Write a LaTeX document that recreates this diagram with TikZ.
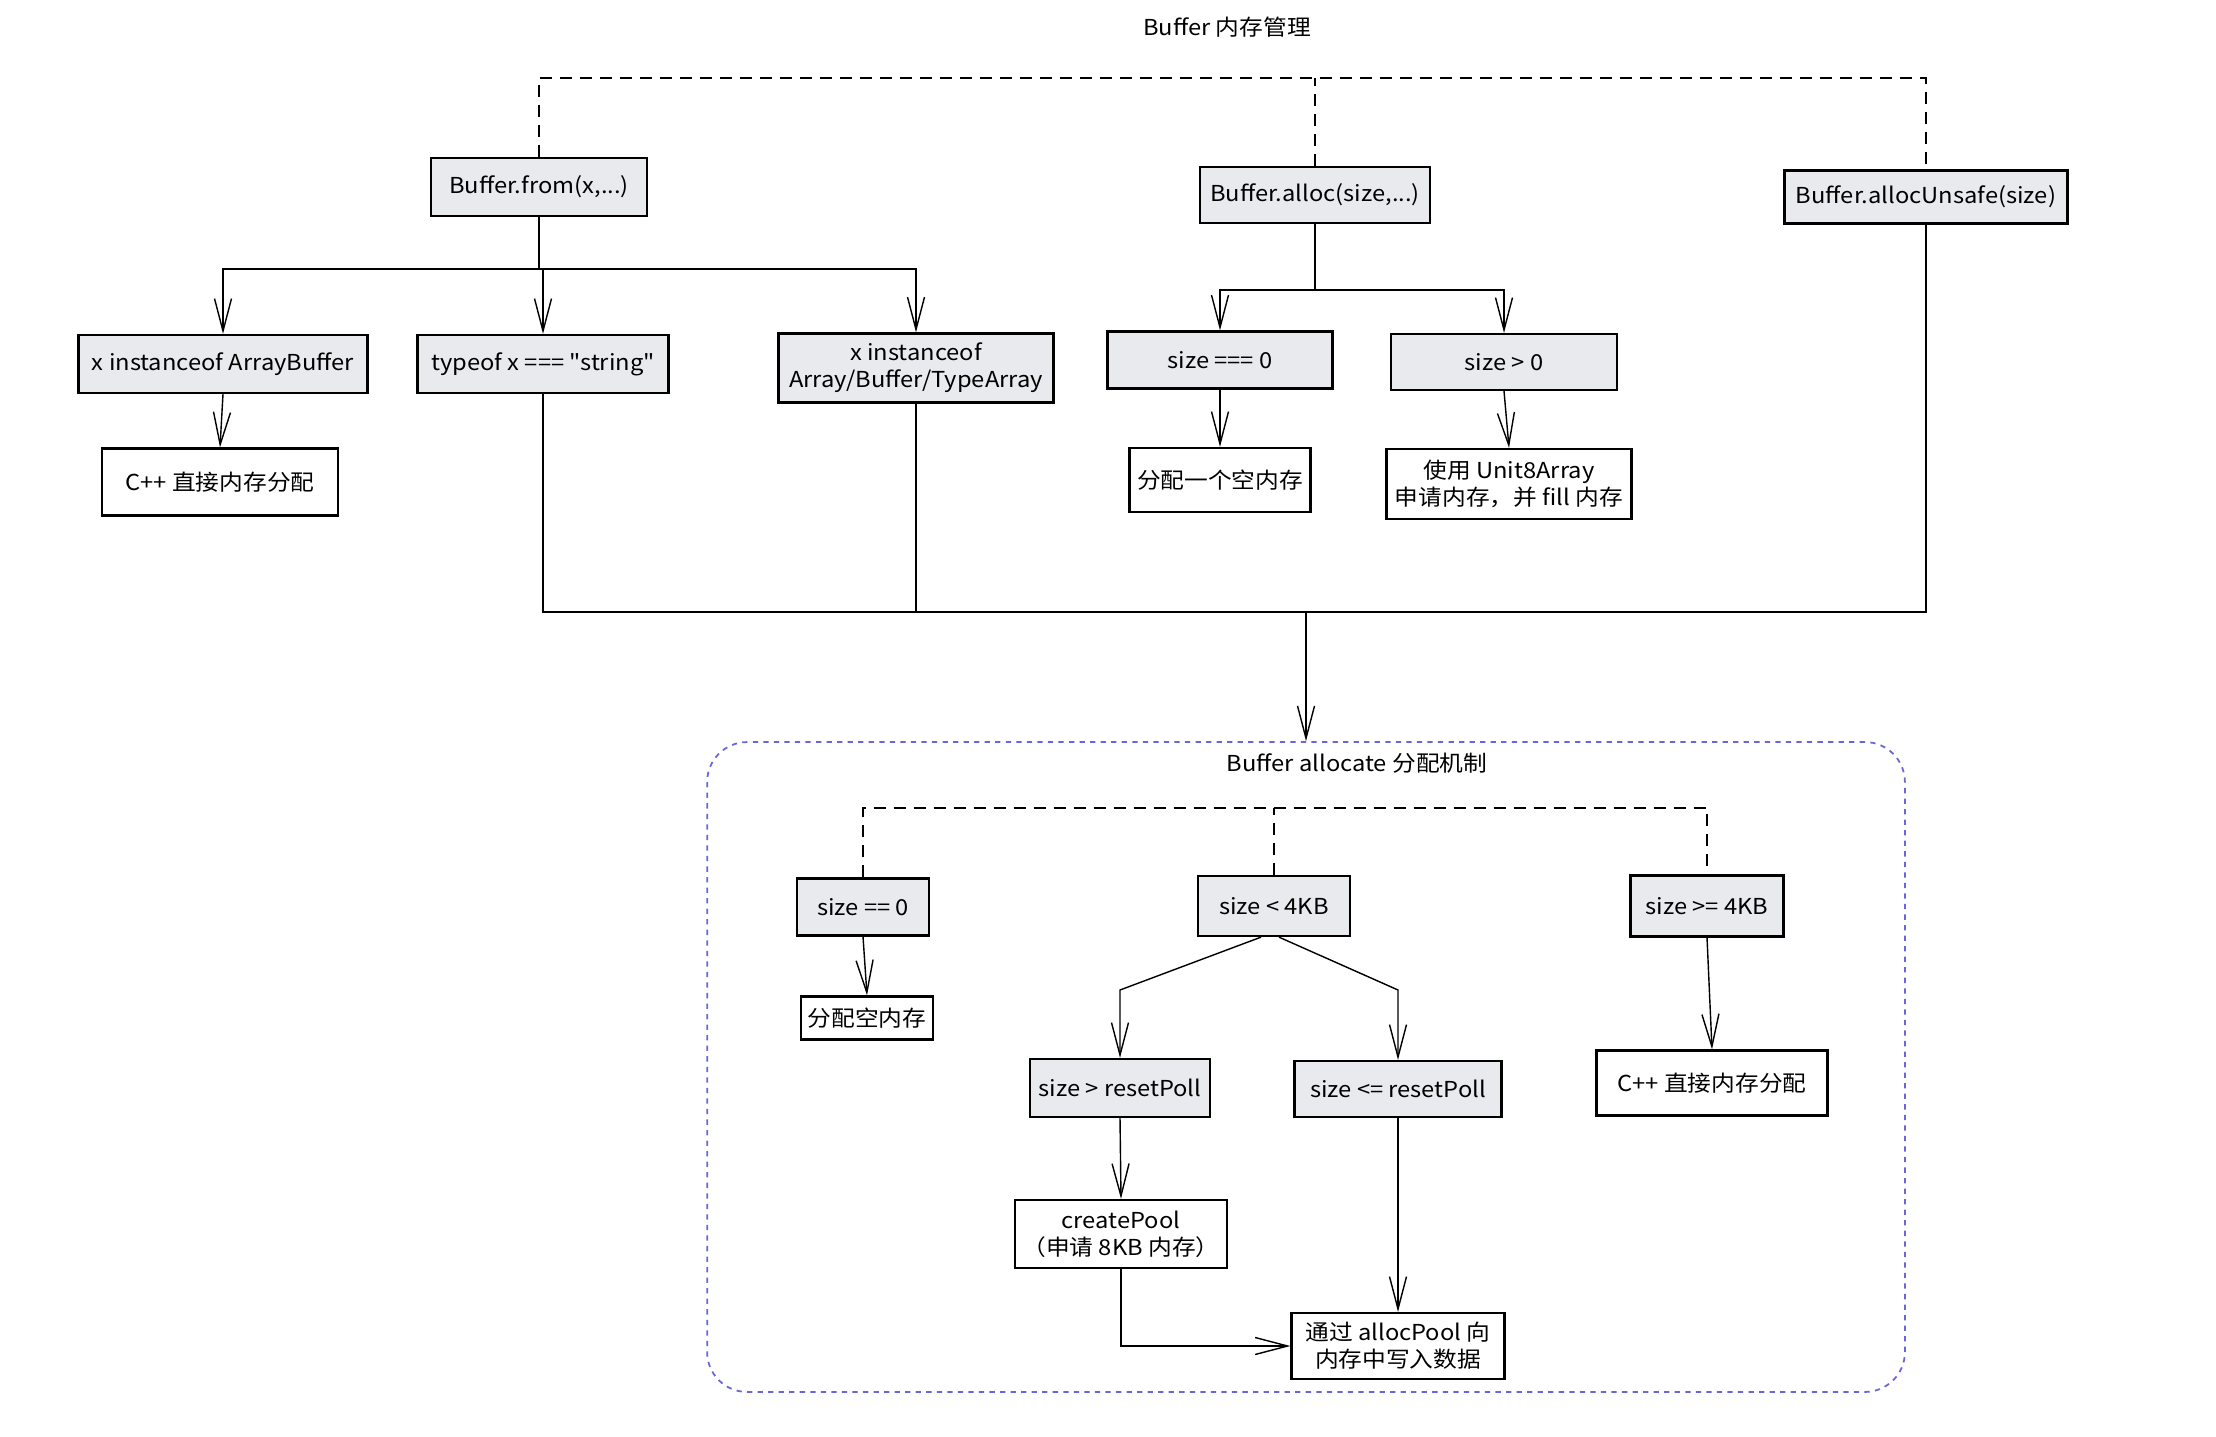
\documentclass[tikz,border=0pt]{standalone}
\usepackage{fontspec}
\setmainfont{Noto Sans CJK SC}[Ligatures=TeXOff, FakeStretch=1.08]
\usepackage{xcolor}
\usepackage{tikz}
\usetikzlibrary{arrows.meta, positioning, calc}
\definecolor{hatchgray}{RGB}{232,234,237}
\definecolor{poolblue}{RGB}{105,101,219}

\begin{document}
\begin{tikzpicture}[x=0.02cm, y=-0.02cm, >={Straight Barb[length=6.5mm,width=3.4mm]},
  every node/.style={font=\fontsize{12.5}{15.5}\selectfont, align=center, inner sep=2pt},
  graybox/.style={rectangle, draw=black, line width=1.3pt, fill=hatchgray},
  whitebox/.style={rectangle, draw=black, line width=1.3pt, fill=white},
  link/.style={line width=0.8pt},
  guide/.style={line width=1pt, dash pattern=on 0.24cm off 0.16cm}]
\useasboundingbox (0,0) rectangle (2216,1436);

% upper part: Buffer API
\node (title) at (1227,27) {Buffer 内存管理};
\node (from) [graybox, minimum width=4.32cm, minimum height=1.16cm] at (539,187) {Buffer.from(x,...)};
\node (alloc) [graybox, minimum width=4.6cm, minimum height=1.12cm] at (1315,195) {Buffer.alloc(size,...)};
\node (unsafe) [graybox, minimum width=5.66cm, minimum height=1.06cm] at (1926,197) {Buffer.allocUnsafe(size)};
\node (isab) [graybox, minimum width=5.78cm, minimum height=1.16cm] at (223,364) {x instanceof ArrayBuffer};
\node (isstr) [graybox, minimum width=5.02cm, minimum height=1.16cm] at (543,364) {typeof x === "string"};
\node (isarr) [graybox, minimum width=5.5cm, minimum height=1.38cm] at (916,368) {x instanceof\\Array/Buffer/TypeArray};
\node (zero) [graybox, minimum width=4.5cm, minimum height=1.14cm] at (1220,360) {size === 0};
\node (pos) [graybox, minimum width=4.52cm, minimum height=1.12cm] at (1504,362) {size > 0};
\node (cpp) [whitebox, minimum width=4.72cm, minimum height=1.34cm] at (220,482) {C++ 直接内存分配};
\node (empty) [whitebox, minimum width=3.62cm, minimum height=1.28cm] at (1220,480) {分配一个空内存};
\node (fill) [whitebox, minimum width=4.9cm, minimum height=1.4cm] at (1509,484) {使用 Unit8Array\\申请内存，并 fill 内存};

% lower part: allocate
\node (pool) [rectangle, draw=poolblue, dashed, line width=1pt, rounded corners=0.8cm, minimum width=23.96cm, minimum height=13cm] at (1306,1067) {};
\node (pooltitle) at (1357,763) {Buffer allocate 分配机制};
\node (eq0) [graybox, minimum width=2.64cm, minimum height=1.14cm] at (863,907) {size == 0};
\node (lt) [graybox, minimum width=3.04cm, minimum height=1.2cm] at (1274,906) {size < 4KB};
\node (ge) [graybox, minimum width=3.06cm, minimum height=1.22cm] at (1707,906) {size >= 4KB};
\node (emptypool) [whitebox, minimum width=2.64cm, minimum height=0.86cm] at (867,1018) {分配空内存};
\node (gtr) [graybox, minimum width=3.6cm, minimum height=1.16cm] at (1120,1088) {size > resetPoll};
\node (ler) [graybox, minimum width=4.14cm, minimum height=1.12cm] at (1398,1089) {size <= resetPoll};
\node (direct) [whitebox, minimum width=4.62cm, minimum height=1.3cm] at (1712,1083) {C++ 直接内存分配};
\node (create) [whitebox, minimum width=4.24cm, minimum height=1.36cm] at (1121,1234) {createPool\\（申请 8KB 内存）};
\node (write) [whitebox, minimum width=4.26cm, minimum height=1.32cm] at (1398,1346) {通过 allocPool 向\\内存中写入数据};

% bus lines
\coordinate (topbar) at (0,78);
\coordinate (frombus) at (0,269);
\coordinate (allocbus) at (0,290);
\coordinate (merge) at (1306,612);
\coordinate (poolbar) at (0,808);
\coordinate (split) at (0,990);

\draw [guide] (from.north) -- (from.north |- topbar) -| (unsafe.north);
\draw [guide] (alloc.north) -- (alloc.north |- topbar);

\draw [link, ->] (from.south) -- (from.south |- frombus) -| (isab.north);
\draw [link, ->] (from.south) -- (from.south |- frombus) -| (isstr.north);
\draw [link, ->] (from.south) -- (from.south |- frombus) -| (isarr.north);
\draw [link, ->] (alloc.south) -- (alloc.south |- allocbus) -| (zero.north);
\draw [link, ->] (alloc.south) -- (alloc.south |- allocbus) -| (pos.north);
\draw [link, ->] (isab.south) -- (cpp.north);
\draw [link, ->] (zero.south) -- (empty.north);
\draw [link, ->] (pos.south) -- (fill.north);

\draw [link] (isstr.south) |- (merge) -| (unsafe.south);
\draw [link] (isarr.south) -- (isarr.south |- merge);
\draw [link, ->] (merge) -- (pool.north);

\draw [guide] (eq0.north) -- (eq0.north |- poolbar) -| (ge.north);
\draw [guide] (lt.north) -- (lt.north |- poolbar);
\draw [link, ->] (eq0.south) -- (emptypool.north);
\draw [link, ->] ([xshift=-0.26cm]lt.south) -- (gtr.north |- split) -- (gtr.north);
\draw [link, ->] ([xshift=0.1cm]lt.south) -- (ler.north |- split) -- (ler.north);
\draw [link, ->] (ge.south) -- (direct.north);
\draw [link, ->] (gtr.south) -- (create.north);
\draw [link, ->] (ler.south) -- (write.north);
\draw [link, ->] (create.south) |- (write.west);
\end{tikzpicture}
\end{document}
